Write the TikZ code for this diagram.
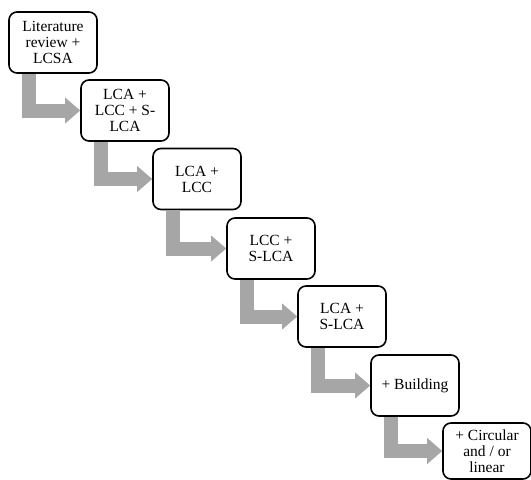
\documentclass[tikz,border=0pt]{standalone}
\usepackage{fontspec}
\setmainfont{Liberation Serif}
\usetikzlibrary{arrows.meta}
\tikzstyle{stage}=[draw, rounded corners=8pt, line width=1.6pt, fill=white, minimum width=88pt, minimum height=61pt, inner sep=2pt, align=center, font=\fontsize{15.5}{16}\selectfont]
\tikzstyle{flow} = [draw, line width=14pt, black!35, -{Triangle[width=25pt,length=15pt]}]

\begin{document}
\begin{tikzpicture}[x=1pt, y=-1pt]

    \useasboundingbox (0,0) rectangle (531,480);

     \foreach \x/\y/\name/\txt in {53/42.5/lit/{Literature\\review +\\LCSA}, 125/110.5/lcs/{LCA +\\LCC + S-\\LCA}, 197/179/lcalcc/{LCA +\\LCC}, 271/248.5/lccs/{LCC +\\S-LCA}, 342/316.5/lcas/{LCA +\\S-LCA}, 415/385.5/bldg/{+ Building}}
        \node[stage] (\name) at (\x,\y) {\txt};
     \node[stage, minimum height=56pt] (circ) at (487,451) {+ Circular\\and / or\\linear};

    \foreach \source/ \dest in {lit/lcs, lcs/lcalcc, lcalcc/lccs, lccs/lcas, lcas/bldg, bldg/circ}
        \path[flow] ([xshift=21pt]\source.south west) |- (\dest.west);

\end{tikzpicture}
\end{document}
